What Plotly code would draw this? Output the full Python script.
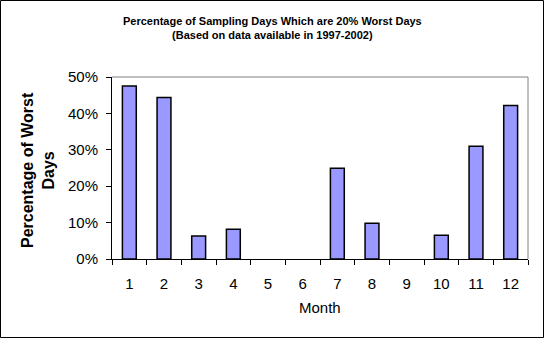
import plotly.graph_objects as go

months = ["1", "2", "3", "4", "5", "6", "7", "8", "9", "10", "11", "12"]
worst_share = [0.475, 0.444, 0.063, 0.082, 0.0, 0.0, 0.249, 0.098, 0.0, 0.065, 0.310, 0.422]
y_ticks = [0, 0.1, 0.2, 0.3, 0.4, 0.5]
y_tick_labels = ["0%", "10%", "20%", "30%", "40%", "50%"]

W, H = 544, 338
L, R, T, B = 112, 16, 77, 79
pw, ph = W - L - R, H - T - B
FONT = "Arial, Liberation Sans, sans-serif"


def px_x(p):
    """Pixel column -> paper x."""
    return (p - L) / pw


def px_y(p):
    """Pixel row -> paper y."""
    return (H - B - p) / ph


# Empty months get no outline, so nothing is drawn at zero
outline_widths = [1.5 if v > 0 else 0 for v in worst_share]

fig = go.Figure(
    go.Bar(
        x=months,
        y=worst_share,
        marker=dict(color="#9999FF", line=dict(color="black", width=outline_widths)),
        hoverinfo="skip",
    )
)

fig.update_layout(
    width=W,
    height=H,
    margin=dict(l=L, r=R, t=T, b=B, pad=0),
    paper_bgcolor="white",
    plot_bgcolor="white",
    bargap=0.6,
    showlegend=False,
    font=dict(family=FONT, color="black", size=15),
    xaxis=dict(
        type="category",
        tickson="boundaries",
        ticks="outside",
        ticklen=5,
        tickcolor="black",
        showline=True,
        linecolor="black",
        linewidth=1,
        showgrid=False,
        tickfont=dict(size=15),
        ticklabelstandoff=11,
    ),
    yaxis=dict(
        range=[0, 0.5],
        tickvals=y_ticks,
        ticktext=y_tick_labels,
        ticks="outside",
        ticklen=5,
        tickcolor="black",
        showline=True,
        linecolor="black",
        linewidth=1,
        showgrid=False,
        zeroline=False,
        tickfont=dict(size=15),
        ticklabelstandoff=5,
    ),
)

# Chart title
fig.add_annotation(
    text="<b>Percentage of Sampling Days Which are 20% Worst Days<br>(Based on data available in 1997-2002)</b>",
    xref="paper", yref="paper", x=px_x(W / 2), y=px_y(28),
    xanchor="center", yanchor="middle", showarrow=False,
    font=dict(size=11, family=FONT),
)
# Axis titles
fig.add_annotation(
    text="<b>Percentage of Worst<br>Days</b>",
    xref="paper", yref="paper", x=px_x(38), y=px_y(170),
    xanchor="center", yanchor="middle", textangle=-90, showarrow=False,
    font=dict(size=16, family=FONT),
)
fig.add_annotation(
    text="Month",
    xref="paper", yref="paper", x=px_x(320), y=px_y(307),
    xanchor="center", yanchor="middle", showarrow=False,
    font=dict(size=15, family=FONT),
)

# Gray plot-area border on top and right
fig.add_shape(type="line", xref="paper", yref="paper", x0=0, x1=1, y0=1, y1=1,
              line=dict(color="#808080", width=1))
fig.add_shape(type="line", xref="paper", yref="paper", x0=1, x1=1, y0=0, y1=1,
              line=dict(color="#808080", width=1))
# Black frame around the whole chart
fig.add_shape(type="rect", xref="paper", yref="paper",
              x0=-(L - 0.5) / pw, x1=1 + (R - 0.5) / pw,
              y0=-(B - 0.5) / ph, y1=1 + (T - 0.5) / ph,
              line=dict(color="black", width=1), layer="below")

fig.write_html("out.html")
